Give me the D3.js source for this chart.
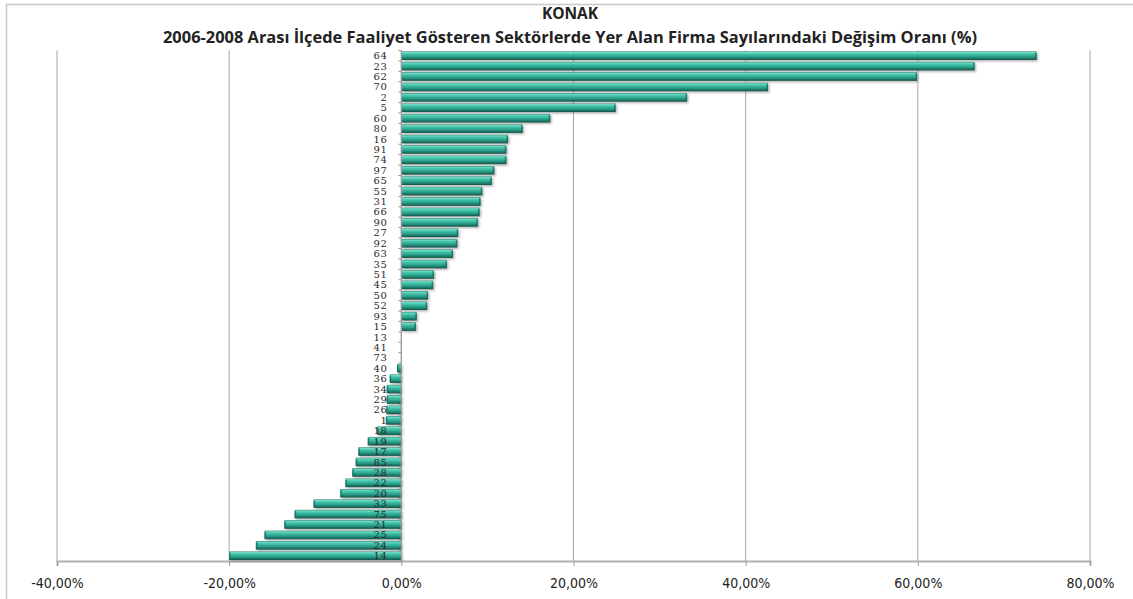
<!DOCTYPE html>
<html><head><meta charset="utf-8">
<script src="https://cdn.jsdelivr.net/npm/d3@7"></script>
<style>
html,body{margin:0;padding:0;background:#fff;}
svg{display:block;}
</style></head>
<body>
<svg id="chart" width="1133" height="599"></svg>
<script>
const titleMain = "KONAK";
const titleSub = "2006-2008 Arası İlçede Faaliyet Gösteren Sektörlerde Yer Alan Firma Sayılarındaki Değişim Oranı (%)";
const categories = ["64","23","62","70","2","5","60","80","16","91","74","97","65","55","31","66","90","27","92","63","35","51","45","50","52","93","15","13","41","73","40","36","34","29","26","1","18","19","17","85","28","22","20","33","75","21","25","24","14"];
const values = [73.8,66.6,59.9,42.6,33.2,24.9,17.3,14.1,12.4,12.2,12.2,10.8,10.5,9.4,9.2,9.1,8.9,6.6,6.5,6.0,5.3,3.8,3.7,3.1,3.0,1.8,1.7,0,0,0,-0.5,-1.35,-1.7,-1.7,-1.75,-1.8,-2.8,-3.9,-5.0,-5.3,-5.7,-6.5,-7.1,-10.2,-12.4,-13.6,-15.9,-16.9,-20.0];
const tickValues = [-40,-20,0,20,40,60,80];

const svg = d3.select("#chart");
const m = {left:57, right:1090, top:50.5, bottom:561};

// outer frame
svg.append("rect").attr("x",6.5).attr("y",4.5).attr("width",1140).attr("height",620)
  .attr("fill","none").attr("stroke","#c8c8c8").attr("stroke-width",1.5);

const x = d3.scaleLinear().domain([-40,80]).range([m.left,m.right]);
const y = d3.scaleBand().domain(categories).range([m.top,m.bottom]).paddingInner(0.18).paddingOuter(0.09);

const defs = svg.append("defs");
const g = defs.append("linearGradient").attr("id","barGrad").attr("x1",0).attr("y1",0).attr("x2",0).attr("y2",1);
[[0,"#1f7d6d"],[0.12,"#70dcc6"],[0.3,"#45c4ab"],[0.6,"#29a28b"],[0.85,"#1b7366"],[1,"#124f44"]]
  .forEach(([o,c])=>g.append("stop").attr("offset",o).attr("stop-color",c));
const f = defs.append("filter").attr("id","sh").attr("x","-5%").attr("y","-50%").attr("width","110%").attr("height","200%");
f.append("feGaussianBlur").attr("stdDeviation",0.8);

// gridlines
svg.append("g").selectAll("line").data(tickValues).join("line")
  .attr("x1",d=>x(d)).attr("x2",d=>x(d)).attr("y1",m.top).attr("y2",m.bottom)
  .attr("stroke","#a6a6a6").attr("stroke-width",1);

// x axis
const fmt = d3.formatLocale({decimal:",",thousands:".",grouping:[3],currency:["",""],minus:"-"}).format(".2f");
const xAxis = svg.append("g").attr("transform",`translate(0,${m.bottom})`)
  .call(d3.axisBottom(x).tickValues(tickValues).tickSize(5).tickPadding(12).tickFormat(d=>fmt(d)+"%"));
xAxis.select(".domain").attr("stroke","#b0b0b0").attr("stroke-width",2);
xAxis.selectAll(".tick line").attr("stroke","#a0a0a0");
xAxis.selectAll("text").attr("font-family","'Liberation Sans Narrow','DejaVu Sans Condensed',sans-serif")
  .attr("font-size",14).attr("fill","#222");

// bar shadows
const bars = svg.append("g");
bars.selectAll("rect.shadow").data(values).join("rect").attr("class","shadow")
  .attr("x",(d)=>Math.min(x(0),x(d))+1.5)
  .attr("y",(d,i)=>y(categories[i])+1.5)
  .attr("width",d=>Math.abs(x(d)-x(0)))
  .attr("height",y.bandwidth())
  .attr("fill","#7a7a7a").attr("opacity",d=>d===0?0:0.55).attr("filter","url(#sh)");
bars.selectAll("rect.bar").data(values).join("rect").attr("class","bar")
  .attr("x",(d)=>Math.min(x(0),x(d)))
  .attr("y",(d,i)=>y(categories[i]))
  .attr("width",d=>Math.abs(x(d)-x(0)))
  .attr("height",y.bandwidth())
  .attr("fill","url(#barGrad)");
// end caps
bars.selectAll("rect.cap").data(values).join("rect").attr("class","cap")
  .attr("x",(d)=>d>=0? x(d)-1.5 : x(d))
  .attr("y",(d,i)=>y(categories[i])+1)
  .attr("width",d=>d===0?0:1.5)
  .attr("height",y.bandwidth()-2)
  .attr("fill","#1a6a5c").attr("opacity",0.8);

// y axis
const yAxis = svg.append("g").attr("transform",`translate(${x(0)},0)`);
yAxis.append("line").attr("x1",0).attr("x2",0).attr("y1",m.top).attr("y2",m.bottom).attr("stroke","#9a9a9a").attr("stroke-width",1.2);
const bounds = d3.range(categories.length+1).map(i=>m.top+i*(m.bottom-m.top)/categories.length);
yAxis.selectAll("line.t").data(bounds).join("line").attr("class","t")
  .attr("x1",-3).attr("x2",0).attr("y1",d=>d).attr("y2",d=>d).attr("stroke","#9a9a9a");
yAxis.selectAll("text").data(categories).join("text")
  .attr("x",-14).attr("y",d=>y(d)+y.bandwidth()/2)
  .attr("dy","0.35em").attr("text-anchor","end")
  .attr("font-family","'DejaVu Serif',serif").attr("font-size",10).attr("letter-spacing",0.5)
  .attr("fill","#2a2a2a").text(d=>d);

// titles
const cx = 570;
svg.append("text").attr("x",cx).attr("y",19).attr("text-anchor","middle")
  .attr("font-family","'Open Sans',sans-serif").attr("font-weight","bold").attr("font-size",15.5)
  .attr("fill","#222").text(titleMain);
const sub = svg.append("text").attr("x",cx).attr("y",43).attr("text-anchor","middle")
  .attr("font-family","'Open Sans',sans-serif").attr("font-weight","bold").attr("font-size",14)
  .attr("fill","#222").text(titleSub);
const len = sub.node().getComputedTextLength();
sub.attr("font-size",14*815/len);
</script>
</body></html>
